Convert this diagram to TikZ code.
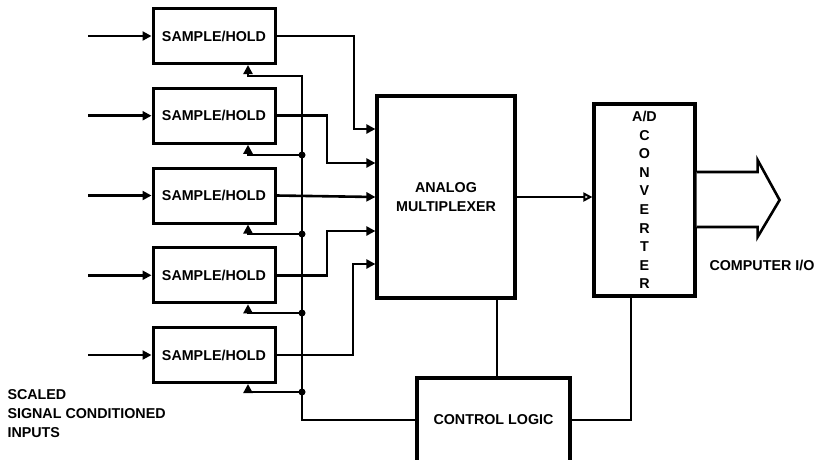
\documentclass[tikz,border=0pt]{standalone}
\usepackage{fontspec}
\setmainfont{Liberation Sans}
\usetikzlibrary{arrows.meta,calc}
\begin{document}
\begin{tikzpicture}[x=1pt,y=-1pt,
  lbl/.style={font=\bfseries\fontsize{14.3}{19}\selectfont},
  shbox/.style={draw,line width=3pt,minimum width=122pt,minimum height=55pt,inner sep=0pt,lbl},
  bigbox/.style={draw,line width=3.2pt,inner sep=0pt,lbl,align=center},
  conn/.style={line width=2.6pt},
  arr/.style={conn,-{Triangle[length=9pt,width=9pt]}},
  dotc/.style={circle,fill,inner sep=0pt,minimum size=7pt}]
\useasboundingbox (0,0) rectangle (816,459);
\clip (0,0) rectangle (816,459);
% sample/hold boxes
\foreach \i/\y in {1/36,2/115.75,3/195.5,4/275.25,5/355}{
  \node[shbox] (sh\i) at (214,\y) {SAMPLE/HOLD};
  \coordinate (in\i) at (88,\y);
  \draw[arr] (in\i) -- (sh\i.west);
}
% multiplexer, converter, control logic
\node[bigbox,minimum width=138pt,minimum height=202pt] (mux) at (446,197) {ANALOG\\MULTIPLEXER};
\node[bigbox,minimum width=101pt,minimum height=192pt,font=\bfseries\fontsize{14.3}{18.6}\selectfont] (adc) at (644.5,200)
  {A/D\\C\\O\\N\\V\\E\\R\\T\\E\\R};
\node[bigbox,minimum width=153pt,minimum height=84pt] (cl) at (493.5,420) {CONTROL LOGIC};
% S/H outputs to mux
\coordinate (m1) at (mux.west |- 0,129);
\coordinate (m2) at (mux.west |- 0,163);
\coordinate (m3) at (mux.west |- 0,197);
\coordinate (m4) at (mux.west |- 0,231);
\coordinate (m5) at (mux.west |- 0,264);
\draw[arr] (sh1.east) -- (354,36) |- (m1);
\draw[arr] (sh2.east) -- (327,115.75) |- (m2);
\draw[arr] (sh3.east) -- (m3);
\draw[arr] (sh4.east) -- (327,275.25) |- (m4);
\draw[arr] (sh5.east) -- (353,355) |- (m5);
% control bus
\coordinate (bustop) at (302,76);
\draw[arr] (cl.west) -| (bustop) -| ($(sh1.south)+(34,0)$);
\foreach \i/\y in {2/155,3/234,4/313,5/392}{
  \coordinate (b\i) at (302,\y);
  \draw[arr] (b\i) -| ($(sh\i.south)+(34,0)$);
  \node[dotc] at (b\i) {};
}
% mux to adc
\draw[line width=2pt,-{Triangle[open,length=9pt,width=9pt]}] (mux.east) -- (mux.east -| adc.west);
% control connections
\draw[conn] (mux.south -| 497,0) -- (cl.north -| 497,0);
\draw[conn] (cl.east) -| (adc.south -| 631,0);
% output arrow
\draw[line width=2.6pt,fill=white] ($(adc.east)+(0,-28)$) -- ($(adc.east)+(61,-28)$) -- ($(adc.east)+(61,-40)$)
  -- ($(adc.east)+(83,0)$) -- ($(adc.east)+(61,37)$) -- ($(adc.east)+(61,27)$) -- ($(adc.east)+(0,27)$);
\node[lbl,anchor=west] (cio) at (706,265) {COMPUTER I/O};
\node[lbl,anchor=west,align=left] (inlbl) at (4,414) {SCALED\\SIGNAL CONDITIONED\\INPUTS};
\end{tikzpicture}
\end{document}
